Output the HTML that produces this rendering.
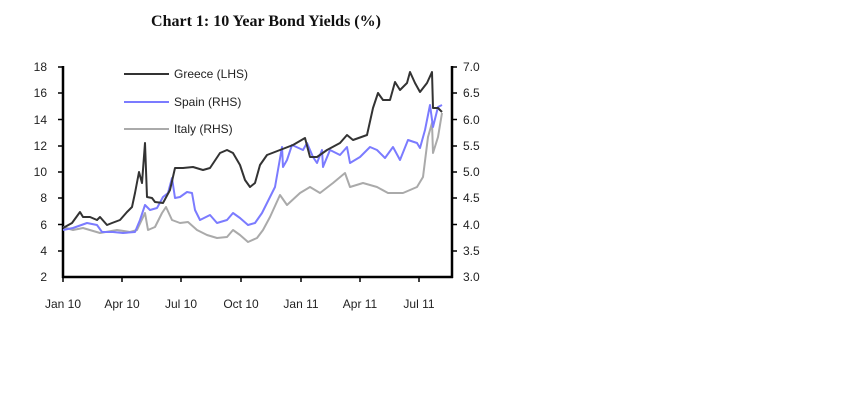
<!DOCTYPE html>
<html><head><style>
body{margin:0;background:#fff;}
svg text{font-family:"Liberation Sans",sans-serif;font-size:12px;fill:#222;}
</style></head><body>
<svg width="843" height="407" viewBox="0 0 843 407" xmlns="http://www.w3.org/2000/svg">
<text x="266" y="26" text-anchor="middle" style="font-family:'Liberation Serif',serif;font-weight:bold;font-size:16px;fill:#111">Chart 1: 10 Year Bond Yields (%)</text>
<g stroke="#000" stroke-width="2.5" fill="none">
<line x1="63" y1="66" x2="63" y2="278"/>
<line x1="452" y1="66" x2="452" y2="278"/>
<line x1="62" y1="277" x2="453" y2="277"/>
</g>
<g stroke="#000" stroke-width="1.5">
<line x1="58" y1="67" x2="63" y2="67"/><line x1="58" y1="93" x2="63" y2="93"/><line x1="58" y1="119.5" x2="63" y2="119.5"/><line x1="58" y1="146" x2="63" y2="146"/><line x1="58" y1="172" x2="63" y2="172"/><line x1="58" y1="198" x2="63" y2="198"/><line x1="58" y1="224.5" x2="63" y2="224.5"/><line x1="58" y1="251" x2="63" y2="251"/>
<line x1="452" y1="67" x2="457" y2="67"/><line x1="452" y1="93" x2="457" y2="93"/><line x1="452" y1="119.5" x2="457" y2="119.5"/><line x1="452" y1="146" x2="457" y2="146"/><line x1="452" y1="172" x2="457" y2="172"/><line x1="452" y1="198" x2="457" y2="198"/><line x1="452" y1="224.5" x2="457" y2="224.5"/><line x1="452" y1="251" x2="457" y2="251"/>
<line x1="63" y1="277" x2="63" y2="282"/><line x1="122" y1="277" x2="122" y2="282"/><line x1="181" y1="277" x2="181" y2="282"/><line x1="241" y1="277" x2="241" y2="282"/><line x1="301" y1="277" x2="301" y2="282"/><line x1="360" y1="277" x2="360" y2="282"/><line x1="419" y1="277" x2="419" y2="282"/>
</g>
<g text-anchor="end">
<text x="47" y="71">18</text><text x="47" y="97">16</text><text x="47" y="124">14</text><text x="47" y="150">12</text><text x="47" y="176">10</text><text x="47" y="202">8</text><text x="47" y="229">6</text><text x="47" y="255">4</text><text x="47" y="281">2</text>
</g>
<g>
<text x="463" y="71">7.0</text><text x="463" y="97">6.5</text><text x="463" y="124">6.0</text><text x="463" y="150">5.5</text><text x="463" y="176">5.0</text><text x="463" y="202">4.5</text><text x="463" y="229">4.0</text><text x="463" y="255">3.5</text><text x="463" y="281">3.0</text>
</g>
<g text-anchor="middle">
<text x="63" y="308">Jan 10</text><text x="122" y="308">Apr 10</text><text x="181" y="308">Jul 10</text><text x="241" y="308">Oct 10</text><text x="301" y="308">Jan 11</text><text x="360" y="308">Apr 11</text><text x="419" y="308">Jul 11</text>
</g>
<g fill="none" stroke-width="2" stroke-linejoin="round">
<polyline stroke="#aaaaaa" points="63,227 73,230 83,228 100,233 117,230 130,232 137,230 145,213 148,230 155,227 162,213 166,207 172,220 180,223 188,222 197,230 207,235 217,238 227,237 233,230 240,235 248,242 257,238 263,230 270,217 280,195 287,205 300,193 310,187 320,193 333,183 345,173 350,187 363,183 377,187 388,193 403,193 417,187 423,177 428,137 432,123 433,153 438,137 442,113"/>
<polyline stroke="#7b7bff" points="63,230 73,228 87,223 97,225 102,232 113,232 123,233 135,232 140,220 145,205 150,210 157,208 163,197 168,193 172,178 175,198 180,197 187,192 192,193 195,210 200,220 210,215 217,223 227,220 233,213 240,218 248,225 255,223 262,213 267,203 275,187 282,147 283,167 287,160 292,145 303,150 307,143 313,157 317,163 322,150 323,167 330,150 340,155 347,147 350,163 360,157 370,147 377,150 385,158 393,147 400,160 408,140 417,143 420,148 425,130 430,105 433,127 438,107 442,105"/>
<polyline stroke="#333333" points="63,228 72,223 80,212 83,217 90,217 97,220 100,217 107,225 112,223 120,220 127,212 132,207 135,193 139,172 142,183 145,143 147,197 152,198 155,202 163,203 170,190 175,168 183,168 193,167 203,170 210,168 220,153 227,150 233,153 240,165 245,180 250,187 255,183 260,165 267,155 280,150 293,145 305,138 310,157 317,157 327,150 340,143 347,135 353,140 367,135 373,108 378,93 383,100 390,100 395,82 400,90 407,83 410,72 415,83 420,92 427,83 432,72 433,108 438,108 442,112"/>
<line x1="124" y1="74" x2="169" y2="74" stroke="#333333"/>
<line x1="124" y1="102" x2="169" y2="102" stroke="#7b7bff"/>
<line x1="124" y1="129" x2="169" y2="129" stroke="#aaaaaa"/>
</g>
<text x="174" y="78">Greece (LHS)</text>
<text x="174" y="106">Spain (RHS)</text>
<text x="174" y="133">Italy (RHS)</text>
</svg>
</body></html>
